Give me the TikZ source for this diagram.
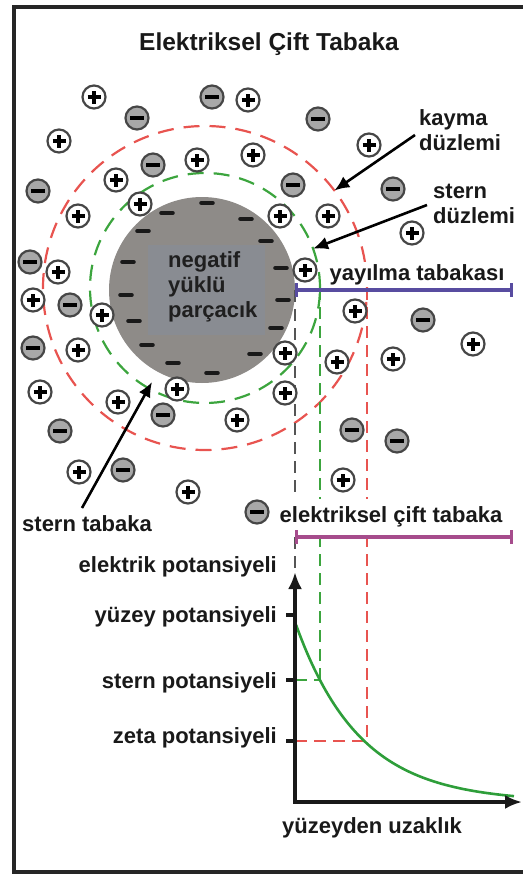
\documentclass[tikz,border=0pt]{standalone}
\usepackage{fontspec}
\setmainfont{Liberation Sans}
\usetikzlibrary{arrows.meta}

\definecolor{slipred}{RGB}{232,84,80}
\definecolor{sterngreen}{RGB}{60,165,62}
\definecolor{curvegreen}{RGB}{46,158,58}
\definecolor{bodygray}{RGB}{142,139,136}
\definecolor{coregray}{RGB}{137,140,146}
\definecolor{diffusepurple}{RGB}{88,76,160}
\definecolor{doublemagenta}{RGB}{166,76,140}
\definecolor{ringgray}{RGB}{70,70,70}
\definecolor{anionfill}{RGB}{168,168,168}
\definecolor{edgegray}{RGB}{85,85,85}

\begin{document}
\begin{tikzpicture}[x=1pt,y=-1pt,
  lbl/.style={font=\fontsize{22}{25}\selectfont\bfseries, text=black!90, inner sep=0pt},
  ionbase/.style={circle, line width=2.2pt, draw=ringgray, minimum size=23pt, inner sep=0pt},
  cation/.style={ionbase, fill=white,
    path picture={\draw[line width=3.6pt,black]
      ([xshift=-6.5pt]path picture bounding box.center) -- ([xshift=6.5pt]path picture bounding box.center)
      ([yshift=-6.5pt]path picture bounding box.center) -- ([yshift=6.5pt]path picture bounding box.center);}},
  anion/.style={ionbase, fill=anionfill,
    path picture={\draw[line width=3.8pt,black]
      ([xshift=-7pt]path picture bounding box.center) -- ([xshift=7pt]path picture bounding box.center);}},
  surfcharge/.style={line width=4.6pt, line cap=round, black!90},
  ringdash/.style={circle, line width=2.2pt, dash pattern=on 16pt off 10pt, inner sep=0pt, outer sep=0pt},
  guide/.style={line width=2pt, dash pattern=on 12pt off 7pt},
  ptr/.style={line width=2.6pt, -{Latex[length=15pt,width=13pt]}},
  spanbar/.style={line width=3.4pt, {Bar[width=14pt,line width=3.4pt]}-{Bar[width=14pt,line width=3.4pt]}},
  tick/.style={line width=3.4pt, black!90},
  axisline/.style={line width=3.4pt, black!90, {Latex[length=17pt,width=14pt]}-{Latex[length=17pt,width=14pt]}}
]
\useasboundingbox (0,0) rectangle (522,875);

% frame
\draw[line width=4pt, black!85] (540,7) -- (14,7) -- (14,872) -- (540,872);

% title
\node[lbl, font=\fontsize{24.5}{28}\selectfont\bfseries, anchor=base] (title) at (269,51) {Elektriksel Çift Tabaka};

% slip plane and Stern plane
\node[ringdash, draw=slipred, minimum size=324pt] (slip) at (205,288) {};
\node[ringdash, draw=sterngreen, minimum size=230pt] (sternring) at (205,288) {};

% negatively charged particle
\node[circle, fill=bodygray, minimum size=186pt, inner sep=0pt, outer sep=0pt] (particle) at (202,290) {};
\fill[coregray] (148,245) rectangle (265,335);
\foreach \x/\y in {207/203,167/213,246/219,143/231,266/241,128/262,281/268,126/295,
                   283/300,134/321,276/328,147/345,255/354,173/363,212/373}
  \draw[surfcharge] (\x-5.5,\y) -- (\x+5.5,\y);
\node[lbl, text=black!88, anchor=base west] (pa) at (168,267) {negatif};
\node[lbl, text=black!88, anchor=base west] (pb) at (168,292) {yüklü};
\node[lbl, text=black!88, anchor=base west] (pc) at (168,317) {parçacık};

% points on the potential curve
\coordinate (origin) at (295,802);
\coordinate (ytop) at (295,572);
\coordinate (xend) at (522,802);
\coordinate (spot) at (320,680);
\coordinate (zpot) at (367,741);

% projection lines
\draw[guide, edgegray] (particle.east) -- (ytop);
\draw[guide, sterngreen] (sternring.east) -- (spot);
\draw[guide, slipred] (slip.east) -- (zpot);
\draw[guide, sterngreen] (295,680) -- (spot);
\draw[guide, slipred] (295,741) -- (zpot);

% ions
\foreach \x/\y [count=\i] in {94/97,248/100,59/141,369/145,197/160,253/155,116/180,140/204,
    78/216,280/216,328/216,412/233,305/270,58/272,33/300,102/315,355/311,473/344,285/353,
    78/350,337/362,393/359,40/392,177/389,285/393,118/402,237/420,79/472,343/480,188/492}
  \node[cation] (cat\i) at (\x,\y) {};
\foreach \x/\y [count=\i] in {212/97,137/118,318/119,153/165,293/185,393/189,38/191,30/262,
    70/305,33/348,423/320,163/415,60/431,352/430,397/441,123/470,257/512}
  \node[anion] (an\i) at (\x,\y) {};

% layer labels with arrows
\node[lbl, anchor=base west] (kayma1) at (419,125) {kayma};
\node[lbl, anchor=base west] (kayma2) at (419,150) {düzlemi};
\coordinate (kaymatail) at (415,135);
\draw[ptr] (kaymatail) -- (slip.37.6);

\node[lbl, anchor=base west] (stern1) at (433,198) {stern};
\node[lbl, anchor=base west] (stern2) at (433,223) {düzlemi};
\coordinate (sterntail) at (427,205);
\draw[ptr] (sterntail) -- (sternring.20.8);

\node[lbl, anchor=base] (sterntab) at (87,531) {stern tabaka};
\coordinate (tabtail) at (82,508);
\coordinate (tabtip) at (152,382);
\draw[ptr] (tabtail) -- (tabtip);

% layer extents
\node[lbl, anchor=base, fill=white, inner xsep=1pt, inner ysep=2pt] (diffuse) at (417,280) {yayılma tabakası};
\draw[spanbar, diffusepurple] (particle.east) -- (513,290);
\node[lbl, anchor=base, fill=white, inner xsep=1pt, inner ysep=7pt] (edl) at (391,522) {elektriksel çift tabaka};
\draw[spanbar, doublemagenta] (295,537) -- (513,537);

% potential graph
\draw[curvegreen, line width=2.6pt] plot[domain=296:514, samples=80] (\x, {802-180*exp(-(\x-295)/64)});
\draw[axisline, line join=miter] (ytop) -- (origin) -- (xend);
\draw[tick] (286,615) -- (295,615);
\draw[tick] (286,680) -- (295,680);
\draw[tick] (286,741) -- (295,741);
\node[lbl, anchor=base east] (lelec) at (277,572) {elektrik potansiyeli};
\node[lbl, anchor=base east] (lsurf) at (277,622) {yüzey potansiyeli};
\node[lbl, anchor=base east] (lstern) at (277,688) {stern potansiyeli};
\node[lbl, anchor=base east] (lzeta) at (277,743) {zeta potansiyeli};
\node[lbl, anchor=base] (ldist) at (372,833) {yüzeyden uzaklık};
\end{tikzpicture}
\end{document}
